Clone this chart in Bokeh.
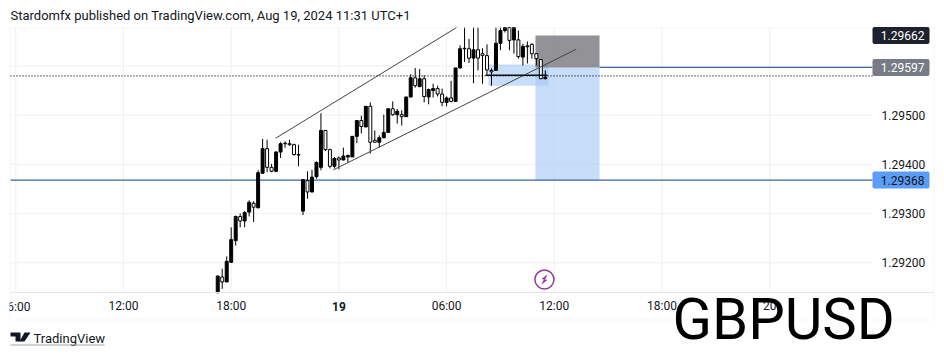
from bokeh.plotting import figure
from bokeh.embed import file_html
from bokeh.resources import INLINE
from bokeh.models import (Range1d, FixedTicker, NumeralTickFormatter, Label, BoxAnnotation,
                          PolyAnnotation, ColumnDataSource)

# ---- data -----------------------------------------------------------------
title_text = "Stardomfx published on TradingView.com, Aug 19, 2024 11:31 UTC+1"
first_hour = -6.75   # hours relative to Aug 19 00:00; one candle = 15 min
candle_step = 0.25
opens = [1.29139,1.29171,1.29161,1.29201,1.29245,1.29294,1.29285,1.29303,1.29321,1.29312,1.29382,1.29432,1.29394,
         1.29386,1.29425,1.29442,1.29442,1.29440,1.29420,1.29305,1.29367,1.29344,1.29375,1.29394,1.29469,1.29430,
         1.29396,1.29413,1.29409,1.29415,1.29415,1.29457,1.29489,1.29476,1.29518,1.29449,1.29445,1.29454,1.29465,
         1.29513,1.29501,1.29501,1.29497,1.29537,1.29576,1.29558,1.29574,1.29537,1.29550,1.29554,1.29543,1.29526,
         1.29535,1.29528,1.29596,1.29635,1.29635,1.29616,1.29633,1.29625,1.29621,1.29591,1.29591,1.29646,1.29672,
         1.29678,1.29653,1.29653,1.29618,1.29641,1.29644,1.29625,1.29613,1.29574]
closes = [1.29173,1.29161,1.29203,1.29247,1.29294,1.29285,1.29302,1.29323,1.29313,1.29383,1.29432,1.29394,1.29386,
          1.29425,1.29442,1.29443,1.29440,1.29420,1.29419,1.29369,1.29344,1.29374,1.29404,1.29469,1.29430,1.29396,
          1.29412,1.29409,1.29417,1.29418,1.29457,1.29489,1.29477,1.29518,1.29445,1.29445,1.29454,1.29465,1.29513,
          1.29501,1.29508,1.29497,1.29537,1.29576,1.29560,1.29574,1.29538,1.29552,1.29554,1.29543,1.29526,1.29535,
          1.29528,1.29596,1.29635,1.29636,1.29616,1.29633,1.29616,1.29621,1.29592,1.29588,1.29646,1.29672,1.29678,
          1.29652,1.29678,1.29619,1.29640,1.29639,1.29625,1.29615,1.29574,1.29577]
highs = [1.29174,1.29188,1.29213,1.29272,1.29296,1.29300,1.29305,1.29327,1.29325,1.29388,1.29452,1.29450,1.29401,
         1.29427,1.29445,1.29447,1.29450,1.29442,1.29440,1.29369,1.29386,1.29389,1.29406,1.29504,1.29469,1.29432,
         1.29415,1.29416,1.29434,1.29420,1.29457,1.29489,1.29499,1.29518,1.29526,1.29469,1.29459,1.29501,1.29513,
         1.29528,1.29513,1.29510,1.29537,1.29583,1.29596,1.29594,1.29581,1.29554,1.29564,1.29560,1.29554,1.29538,
         1.29570,1.29596,1.29642,1.29678,1.29655,1.29678,1.29678,1.29636,1.29644,1.29595,1.29678,1.29678,1.29678,
         1.29678,1.29678,1.29672,1.29645,1.29650,1.29646,1.29626,1.29613,1.29591]
lows = [1.29139,1.29147,1.29161,1.29201,1.29235,1.29272,1.29272,1.29294,1.29283,1.29310,1.29381,1.29384,1.29384,
        1.29384,1.29413,1.29434,1.29438,1.29418,1.29396,1.29297,1.29330,1.29343,1.29371,1.29388,1.29427,1.29392,
        1.29392,1.29390,1.29408,1.29404,1.29415,1.29443,1.29463,1.29476,1.29422,1.29445,1.29434,1.29454,1.29465,
        1.29499,1.29483,1.29479,1.29497,1.29536,1.29556,1.29557,1.29526,1.29522,1.29536,1.29538,1.29518,1.29518,
        1.29526,1.29528,1.29595,1.29608,1.29606,1.29565,1.29591,1.29564,1.29581,1.29560,1.29590,1.29632,1.29668,
        1.29632,1.29625,1.29615,1.29601,1.29605,1.29615,1.29601,1.29574,1.29574]
entry_price = 1.29597
target_price = 1.29368
stop_price = 1.29662
last_price = 1.29580
zone_hours = [8.33, 11.68]
zone_prices = [1.29603, 1.29560]
trade_hours = [10.95, 14.52]
level_hours = [8.17, 11.62]
level_price = 1.29581
channel_top_hours = [-3.53, 6.55]
channel_top_prices = [1.29453, 1.29678]
channel_low_hours = [-0.3, 13.22]
channel_low_prices = [1.29389, 1.29634]
time_ticks = [-18, -12, -6, 0, 6, 12, 18, 24]
time_labels = ["", "12:00", "18:00", "", "06:00", "12:00", "18:00", "20"]
price_ticks = [1.292, 1.293, 1.294, 1.295, 1.296]
price_labels = {1.296: ""}

# ---- style ----------------------------------------------------------------
FONT = "Roboto"
INK = "#131722"
GRID = "#eff0f2"
EDGE = "#e4e5e8"
LEVEL = "#34679b"
W, H = 944, 355
PX_H = 17.95          # pixels per hour
X0 = 338.4            # canvas x of Aug 19 00:00
PX_P = 49200.0        # pixels per price unit
PANE_TOP_Y = 27
PANE_BOTTOM_Y = 292.3
TOP_PRICE = 1.296782
BOTTOM_PRICE = TOP_PRICE - (PANE_BOTTOM_Y - PANE_TOP_Y) / PX_P
PANE_LEFT = (10 - X0) / PX_H
PANE_RIGHT = (872 - X0) / PX_H
AXIS_END = (933 - X0) / PX_H

# the frame fills the canvas; the axes sit at fixed places inside it
p = figure(width=W, height=H, output_backend="svg", toolbar_location=None,
           x_range=Range1d((0 - X0) / PX_H, (W - X0) / PX_H),
           y_range=Range1d(TOP_PRICE - (H - PANE_TOP_Y) / PX_P, TOP_PRICE + PANE_TOP_Y / PX_P),
           y_axis_location="right", min_border=0, background_fill_color="white",
           outline_line_color=None)
p.grid.visible = False

p.xaxis.fixed_location = BOTTOM_PRICE
p.xaxis.bounds = (PANE_LEFT, AXIS_END)
p.yaxis.fixed_location = PANE_RIGHT
p.yaxis.bounds = (BOTTOM_PRICE, TOP_PRICE)
p.xaxis.ticker = FixedTicker(ticks=time_ticks)
p.xaxis.major_label_overrides = dict(zip(time_ticks, time_labels))
p.yaxis.ticker = FixedTicker(ticks=price_ticks)
p.yaxis.major_label_overrides = price_labels
p.yaxis.formatter = NumeralTickFormatter(format="0.00000")
for ax in (p.xaxis, p.yaxis):
    ax.major_tick_line_color = None
    ax.minor_tick_line_color = None
    ax.major_label_text_font = FONT
    ax.major_label_text_font_size = "12px"
    ax.major_label_text_color = INK
p.xaxis.axis_line_color = EDGE
p.yaxis.axis_line_color = None
p.xaxis.major_label_standoff = 0
p.yaxis.major_label_standoff = 3

# grid lines, limited to the pane
p.segment(time_ticks, [BOTTOM_PRICE] * len(time_ticks), time_ticks, [TOP_PRICE] * len(time_ticks),
          line_color=GRID, line_width=1)
p.segment([PANE_LEFT] * len(price_ticks), price_ticks, [PANE_RIGHT] * len(price_ticks), price_ticks,
          line_color=GRID, line_width=1)

# trade zones
p.quad(left=zone_hours[0], right=zone_hours[1], top=zone_prices[0], bottom=zone_prices[1],
       fill_color="#a9cbf8", fill_alpha=0.65, line_color=None)
p.quad(left=trade_hours[0], right=trade_hours[1], top=entry_price, bottom=target_price,
       fill_color="#a9cbf8", fill_alpha=0.65, line_color=None)
p.quad(left=trade_hours[0], right=trade_hours[1], top=stop_price, bottom=entry_price,
       fill_color="#6f6f74", fill_alpha=0.75, line_color=None)

# levels
p.line([PANE_LEFT, PANE_RIGHT], [last_price, last_price], line_color="#111111", line_width=1.3, line_dash="1 2")
p.line([trade_hours[1], PANE_RIGHT], [entry_price, entry_price], line_color=LEVEL, line_width=1.2)
p.line([PANE_LEFT, PANE_RIGHT], [target_price, target_price], line_color=LEVEL, line_width=1.2)

# candles
hours = [first_hour + i * candle_step for i in range(len(opens))]
src = ColumnDataSource(dict(
    x=hours, o=opens, c=closes, h=highs, l=lows,
    top=[max(a, b) for a, b in zip(opens, closes)],
    bottom=[min(a, b) for a, b in zip(opens, closes)],
    fill=["#000000" if c >= o else "#ffffff" for o, c in zip(opens, closes)],
))
p.segment(x0="x", x1="x", y0="l", y1="h", source=src, line_color="#000000", line_width=1)
p.vbar(x="x", top="top", bottom="bottom", width=0.165, source=src,
       fill_color="fill", line_color="#000000", line_width=1)

# drawings
p.line(channel_top_hours, channel_top_prices, line_color="#444444", line_width=1)
p.line(channel_low_hours, channel_low_prices, line_color="#444444", line_width=1)
p.line(level_hours, [level_price, level_price], line_color="#0c0c14", line_width=1.6)

# lightning marker
icon_hour, icon_price = 11.45, 1.29166
p.scatter([icon_hour], [icon_price], marker="circle", size=19, fill_color="white",
          line_color="#8e3a9d", line_width=1.5)
bolt_x = [2.5, -2.5, -0.2, -2.5, 2.5, 0.2]
bolt_y = [4.5, 0.5, 0.5, -4.5, -0.5, -0.5]
p.patch([icon_hour + v / PX_H for v in bolt_x], [icon_price + v / PX_P for v in bolt_y],
        fill_color="#8e3a9d", line_color="#8e3a9d", line_width=0.5)

CANVAS = dict(left_units="canvas", right_units="canvas", top_units="canvas", bottom_units="canvas")

def canvas_label(x, y, text, **kw):
    p.add_layout(Label(x=x, y=y, x_units="canvas", y_units="canvas", text=text, text_baseline="middle",
                       text_font=kw.pop("font", FONT), text_font_size=kw.pop("size", "12px"),
                       text_color=kw.pop("color", INK), **kw))

canvas_label(30, 306, "6:00", text_align="right")
p.add_layout(BoxAnnotation(left=0, right=9, top=295, bottom=318, **CANVAS,
                           fill_color="white", fill_alpha=1, line_color=None))

# outer frame of the chart
p.add_layout(BoxAnnotation(left=9.5, right=933.5, top=27.5, bottom=319.5, **CANVAS,
                           fill_alpha=0, line_color=EDGE, line_width=1))

# price tags
for price, text, bg, fg in [(stop_price, "1.29662", "#1e222d", "#ffffff"),
                            (entry_price, "1.29597", "#787b86", "#ffffff"),
                            (target_price, "1.29368", "#5b9cf6", "#131722")]:
    sy = PANE_TOP_Y + (TOP_PRICE - price) * PX_P
    p.add_layout(BoxAnnotation(left=872, right=929, top=sy - 8.5, bottom=sy + 8.5, **CANVAS,
                               fill_color=bg, fill_alpha=1, line_color=None, border_radius=2))
    p.add_layout(Label(x=924, y=sy, x_units="canvas", y_units="canvas", text=text, text_align="right",
                       text_baseline="middle", text_color=fg, text_font=FONT, text_font_size="12px"))

canvas_label(10, 15, title_text, size="13px")
canvas_label(X0, 306, "19", text_align="center", text_font_style="bold")
canvas_label(33, 338, "TradingView", size="13px")
canvas_label(672, 318, "GBPUSD", size="58px", color="#000000")

# TradingView mark and its underline
for xs, ys in [([10, 20, 20, 15, 15, 10], [332, 332, 341, 341, 336, 336]),
               ([24, 30, 24, 19], [332, 332, 341, 341])]:
    p.add_layout(PolyAnnotation(xs=xs, ys=ys, xs_units="canvas", ys_units="canvas",
                                fill_color="#131722", fill_alpha=1, line_color=None))
p.add_layout(BoxAnnotation(left=10, right=104, top=344, bottom=345, **CANVAS,
                           fill_color="#a0a3aa", fill_alpha=1, line_color=None))

open("out.html", "w").write(file_html(p, INLINE))
